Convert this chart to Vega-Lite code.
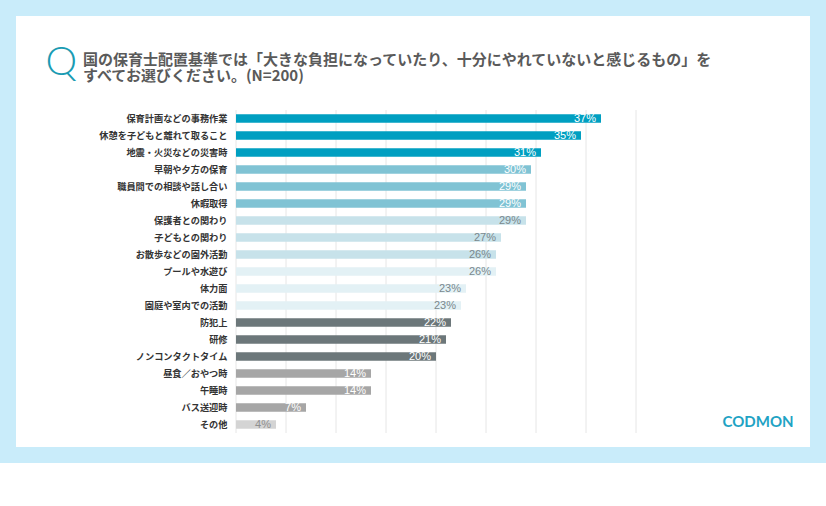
{
  "$schema": "https://vega.github.io/schema/vega-lite/v6.json",
  "width": 810,
  "height": 447,
  "autosize": {"type": "none"},
  "padding": {"left": 8, "top": 8, "right": 8, "bottom": 51},
  "background": "#ffffff",
  "config": {
    "view": {"fill": "#ffffff", "stroke": "#c9ecfa", "strokeWidth": 16},
    "font": "Noto Sans CJK JP"
  },
  "title": {
    "text": ["国の保育士配置基準では「大きな負担になっていたり、十分にやれていないと感じるもの」を", "すべてお選びください。(N=200)"],
    "anchor": "start",
    "frame": "group",
    "dx": 75,
    "offset": -76,
    "font": "Noto Sans CJK JP",
    "fontSize": 15,
    "lineHeight": 16.5,
    "fontWeight": "bold",
    "color": "#5a5a5a"
  },
  "datasets": {
    "answers": [
      {"item": "保育計画などの事務作業", "v": 36.5, "lab": "37%", "tier": "t1"},
      {"item": "休憩を子どもと離れて取ること", "v": 34.5, "lab": "35%", "tier": "t1"},
      {"item": "地震・火災などの災害時", "v": 30.5, "lab": "31%", "tier": "t1"},
      {"item": "早朝や夕方の保育", "v": 29.5, "lab": "30%", "tier": "t2"},
      {"item": "職員間での相談や話し合い", "v": 29, "lab": "29%", "tier": "t2"},
      {"item": "休暇取得", "v": 29, "lab": "29%", "tier": "t2"},
      {"item": "保護者との関わり", "v": 29, "lab": "29%", "tier": "t3"},
      {"item": "子どもとの関わり", "v": 26.5, "lab": "27%", "tier": "t3"},
      {"item": "お散歩などの園外活動", "v": 26, "lab": "26%", "tier": "t3"},
      {"item": "プールや水遊び", "v": 26, "lab": "26%", "tier": "t4"},
      {"item": "体力面", "v": 23, "lab": "23%", "tier": "t4"},
      {"item": "園庭や室内での活動", "v": 22.5, "lab": "23%", "tier": "t4"},
      {"item": "防犯上", "v": 21.5, "lab": "22%", "tier": "t5"},
      {"item": "研修", "v": 21, "lab": "21%", "tier": "t5"},
      {"item": "ノンコンタクトタイム", "v": 20, "lab": "20%", "tier": "t5"},
      {"item": "昼食／おやつ時", "v": 13.5, "lab": "14%", "tier": "t6"},
      {"item": "午睡時", "v": 13.5, "lab": "14%", "tier": "t6"},
      {"item": "バス送迎時", "v": 7, "lab": "7%", "tier": "t6"},
      {"item": "その他", "v": 4, "lab": "4%", "tier": "t7"}
    ],
    "grid": [{"g": 0}, {"g": 5}, {"g": 10}, {"g": 15}, {"g": 20}, {"g": 25}, {"g": 30}, {"g": 35}, {"g": 40}]
  },
  "data": {"name": "answers"},
  "encoding": {
    "y": {
      "field": "item",
      "type": "nominal",
      "scale": {
        "domain": ["保育計画などの事務作業", "休憩を子どもと離れて取ること", "地震・火災などの災害時", "早朝や夕方の保育", "職員間での相談や話し合い", "休暇取得", "保護者との関わり", "子どもとの関わり", "お散歩などの園外活動", "プールや水遊び", "体力面", "園庭や室内での活動", "防犯上", "研修", "ノンコンタクトタイム", "昼食／おやつ時", "午睡時", "バス送迎時", "その他"],
        "range": [102, 425],
        "paddingInner": 0.5,
        "paddingOuter": 0.25,
        "round": false
      },
      "axis": {
        "title": "Q",
        "titleAngle": 0,
        "titleX": -191,
        "titleY": 66,
        "titleAlign": "left",
        "titleBaseline": "alphabetic",
        "titleFont": "Lato",
        "titleFontWeight": 300,
        "titleFontSize": 40,
        "titleColor": "#1a9bb3",
        "offset": -228,
        "domain": false,
        "ticks": false,
        "grid": false,
        "labelPadding": 9,
        "labelFont": "Noto Sans CJK JP",
        "labelFontWeight": "bold",
        "labelFontSize": 9.2,
        "labelColor": "#333333",
        "labelLimit": 0
      }
    },
    "x": {
      "field": "v",
      "type": "quantitative",
      "scale": {"domain": [-22.8, 58.2], "nice": false, "zero": false},
      "axis": {
        "title": "CODMON",
        "labels": false,
        "ticks": false,
        "domain": false,
        "grid": false,
        "titleX": 714,
        "titleY": -34,
        "titleAlign": "left",
        "titleBaseline": "middle",
        "titleFont": "Lato",
        "titleFontSize": 15,
        "titleFontWeight": "bold",
        "titleColor": "#1fa3c4"
      }
    }
  },
  "layer": [
    {
      "data": {"name": "grid"},
      "mark": {"type": "rule", "color": "#e6e6e6", "strokeWidth": 1},
      "encoding": {
        "x": {"field": "g", "type": "quantitative"},
        "y": {"datum": "保育計画などの事務作業", "type": "nominal", "bandPosition": -0.5},
        "y2": {"datum": "その他", "bandPosition": 1.5}
      }
    },
    {
      "mark": {"type": "bar"},
      "encoding": {
        "color": {
          "field": "tier",
          "type": "nominal",
          "scale": {
            "domain": ["t1", "t2", "t3", "t4", "t5", "t6", "t7"],
            "range": ["#009fc1", "#80c3d4", "#c7e2ea", "#e3f1f5", "#6c777a", "#a6a6a6", "#d4d4d4"]
          },
          "legend": null
        }
      }
    },
    {
      "mark": {"type": "text", "align": "right", "baseline": "middle", "dx": -5, "font": "Liberation Sans", "fontSize": 11},
      "encoding": {
        "text": {"field": "lab"},
        "color": {
          "field": "tier",
          "type": "nominal",
          "scale": {
            "domain": ["t1", "t2", "t3", "t4", "t5", "t6", "t7"],
            "range": ["#ffffff", "#ffffff", "#7a888d", "#7a888d", "#ffffff", "#ffffff", "#8f8f8f"]
          },
          "legend": null
        }
      }
    }
  ],
  "resolve": {"scale": {"color": "independent"}}
}
